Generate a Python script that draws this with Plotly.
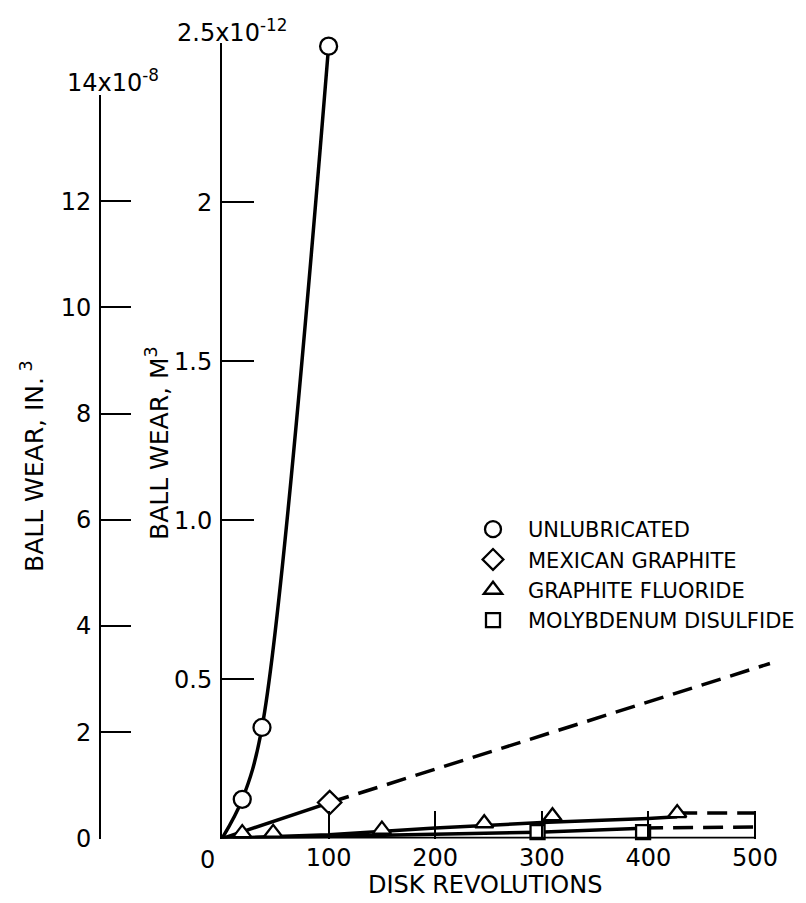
import plotly.graph_objects as go

# ball wear data, 1e-12 m^3 vs disk revolutions
unlub_rev = [0, 19, 37.5, 100]
unlub_wear = [0, 0.123, 0.349, 2.49]

mex_rev = [101]
mex_wear = [0.113]
mex_fit_rev = [0, 101]
mex_fit_wear = [0, 0.113]
mex_ext_rev = [101, 514]
mex_ext_wear = [0.113, 0.55]

gf_rev = [19, 48, 150, 246, 310, 427]
gf_wear = [0.017, 0.018, 0.028, 0.048, 0.07, 0.08]
gf_fit_rev = [0, 100, 200, 300, 400, 427]
gf_fit_wear = [0, 0.012, 0.033, 0.05, 0.063, 0.068]
gf_ext_rev = [427, 500]
gf_ext_wear = [0.08, 0.08]

mos_rev = [296, 395]
mos_wear = [0.02, 0.02]
mos_fit_rev = [0, 150, 296, 395]
mos_fit_wear = [0, 0.01, 0.02, 0.032]
mos_ext_rev = [395, 500]
mos_ext_wear = [0.033, 0.036]

x_ticks = [100, 200, 300, 400, 500]
m3_ticks = [0.5, 1.0, 1.5, 2, 2.5]
m3_labels = ["0.5", "1.0", "1.5", "2", ""]
in3_ticks = [0, 2, 4, 6, 8, 10, 12, 14]
in3_labels = ["0", "2", "4", "6", "8", "10", "12", ""]

FONT = "DejaVu Sans, sans-serif"
W, H = 806, 903
PAGE_OFFSET = 8  # body margin of the html page


# pixel position on the page (from top-left) -> paper fraction
def fx(x):
    return (x - PAGE_OFFSET) / W


def fy(y):
    return 1 - (y - PAGE_OFFSET) / H


fig = go.Figure()

line = dict(color="black", width=3.5)
dash = dict(color="black", width=3.5, dash="20px,10px")
mk = dict(color="white", line=dict(color="black", width=2.3))

# fitted curves
fig.add_trace(go.Scatter(x=unlub_rev, y=unlub_wear, mode="lines", line=dict(line, shape="spline"), showlegend=False))
fig.add_trace(go.Scatter(x=mex_fit_rev, y=mex_fit_wear, mode="lines", line=line, showlegend=False))
fig.add_trace(go.Scatter(x=mex_ext_rev, y=mex_ext_wear, mode="lines", line=dash, showlegend=False))
fig.add_trace(go.Scatter(x=gf_fit_rev, y=gf_fit_wear, mode="lines", line=line, showlegend=False))
fig.add_trace(go.Scatter(x=gf_ext_rev, y=gf_ext_wear, mode="lines", line=dash, showlegend=False))
fig.add_trace(go.Scatter(x=mos_fit_rev, y=mos_fit_wear, mode="lines", line=line, showlegend=False))
fig.add_trace(go.Scatter(x=mos_ext_rev, y=mos_ext_wear, mode="lines", line=dash, showlegend=False))

# data points
fig.add_trace(go.Scatter(x=unlub_rev[1:], y=unlub_wear[1:], mode="markers", name="UNLUBRICATED",
                         marker=dict(mk, symbol="circle", size=17), cliponaxis=False))
fig.add_trace(go.Scatter(x=mex_rev, y=mex_wear, mode="markers", name="MEXICAN GRAPHITE",
                         marker=dict(mk, symbol="diamond", size=18), cliponaxis=False))
fig.add_trace(go.Scatter(x=gf_rev, y=gf_wear, mode="markers", name="GRAPHITE FLUORIDE",
                         marker=dict(mk, symbol="triangle-up", size=16), cliponaxis=False))
fig.add_trace(go.Scatter(x=mos_rev, y=mos_wear, mode="markers", name="MOLYBDENUM DISULFIDE",
                         marker=dict(mk, symbol="square", size=14), cliponaxis=False))

# empty trace to carry the in^3 axis
fig.add_trace(go.Scatter(x=[], y=[], xaxis="x2", yaxis="y2", showlegend=False))

tickfont = dict(family=FONT, size=24, color="black")

fig.update_layout(
    width=W, height=H,
    margin=dict(l=0, r=0, t=0, b=0, autoexpand=False),
    paper_bgcolor="white", plot_bgcolor="rgba(0,0,0,0)",
    font=dict(family=FONT, color="black"),
    xaxis=dict(domain=[fx(222), fx(771)], range=[0, 515], showgrid=False, zeroline=False,
               showline=False, tickvals=x_ticks, ticks="inside", ticklen=28, tickwidth=2,
               tickcolor="black", tickfont=tickfont, ticklabelstandoff=2, automargin=False),
    yaxis=dict(domain=[fy(838.5), fy(43)], range=[0, 2.5], showgrid=False, zeroline=False,
               showline=True, linecolor="black", linewidth=2, tickvals=m3_ticks, ticktext=m3_labels,
               ticks="inside", ticklen=32, tickwidth=2, tickcolor="black", tickfont=tickfont,
               ticklabelstandoff=3, automargin=False),
    xaxis2=dict(domain=[fx(101), fx(102)], anchor="y2", visible=False, range=[0, 1], automargin=False),
    yaxis2=dict(domain=[fy(838.5), fy(95)], anchor="x2", range=[0, 14], showgrid=False,
                zeroline=False, showline=True, linecolor="black", linewidth=2,
                tickvals=in3_ticks, ticktext=in3_labels, ticks="inside", ticklen=30, tickwidth=2,
                tickcolor="black", tickfont=tickfont, ticklabelstandoff=3, automargin=False),
    legend=dict(x=fx(458), y=fy(509), xanchor="left", yanchor="top",
                font=dict(family=FONT, size=21, color="black"), bgcolor="rgba(0,0,0,0)",
                itemsizing="trace", itemwidth=60, tracegroupgap=0),
    showlegend=True,
)

# x axis baseline from 0 to 500
fig.add_shape(type="line", xref="x", yref="y", x0=0, x1=500, y0=0, y1=0,
              line=dict(color="black", width=3.5))

ann = [
    dict(text="2.5x10<sup>-12</sup>", x=175, y=49, xanchor="left", yanchor="bottom", size=24),
    dict(text="14x10<sup>-8</sup>", x=65, y=99, xanchor="left", yanchor="bottom", size=24),
    dict(text="0", x=207, y=860, xanchor="center", yanchor="middle", size=24),
    dict(text="DISK REVOLUTIONS", x=485, y=885, xanchor="center", yanchor="middle", size=24),
]
for a in ann:
    fig.add_annotation(text=a["text"], x=fx(a["x"]), y=fy(a["y"]), xref="paper", yref="paper",
                       showarrow=False, xanchor=a["xanchor"], yanchor=a["yanchor"],
                       font=dict(family=FONT, size=a["size"], color="black"))

for text, cx, cy in [("BALL WEAR, IN.<sup> 3</sup>", 32, 466), ("BALL WEAR, M<sup>3</sup>", 158, 443)]:
    fig.add_annotation(text=text, x=fx(cx), y=fy(cy), xref="paper", yref="paper", showarrow=False,
                       textangle=-90, xanchor="center", yanchor="middle",
                       font=dict(family=FONT, size=25, color="black"))

fig.write_html("out.html")
